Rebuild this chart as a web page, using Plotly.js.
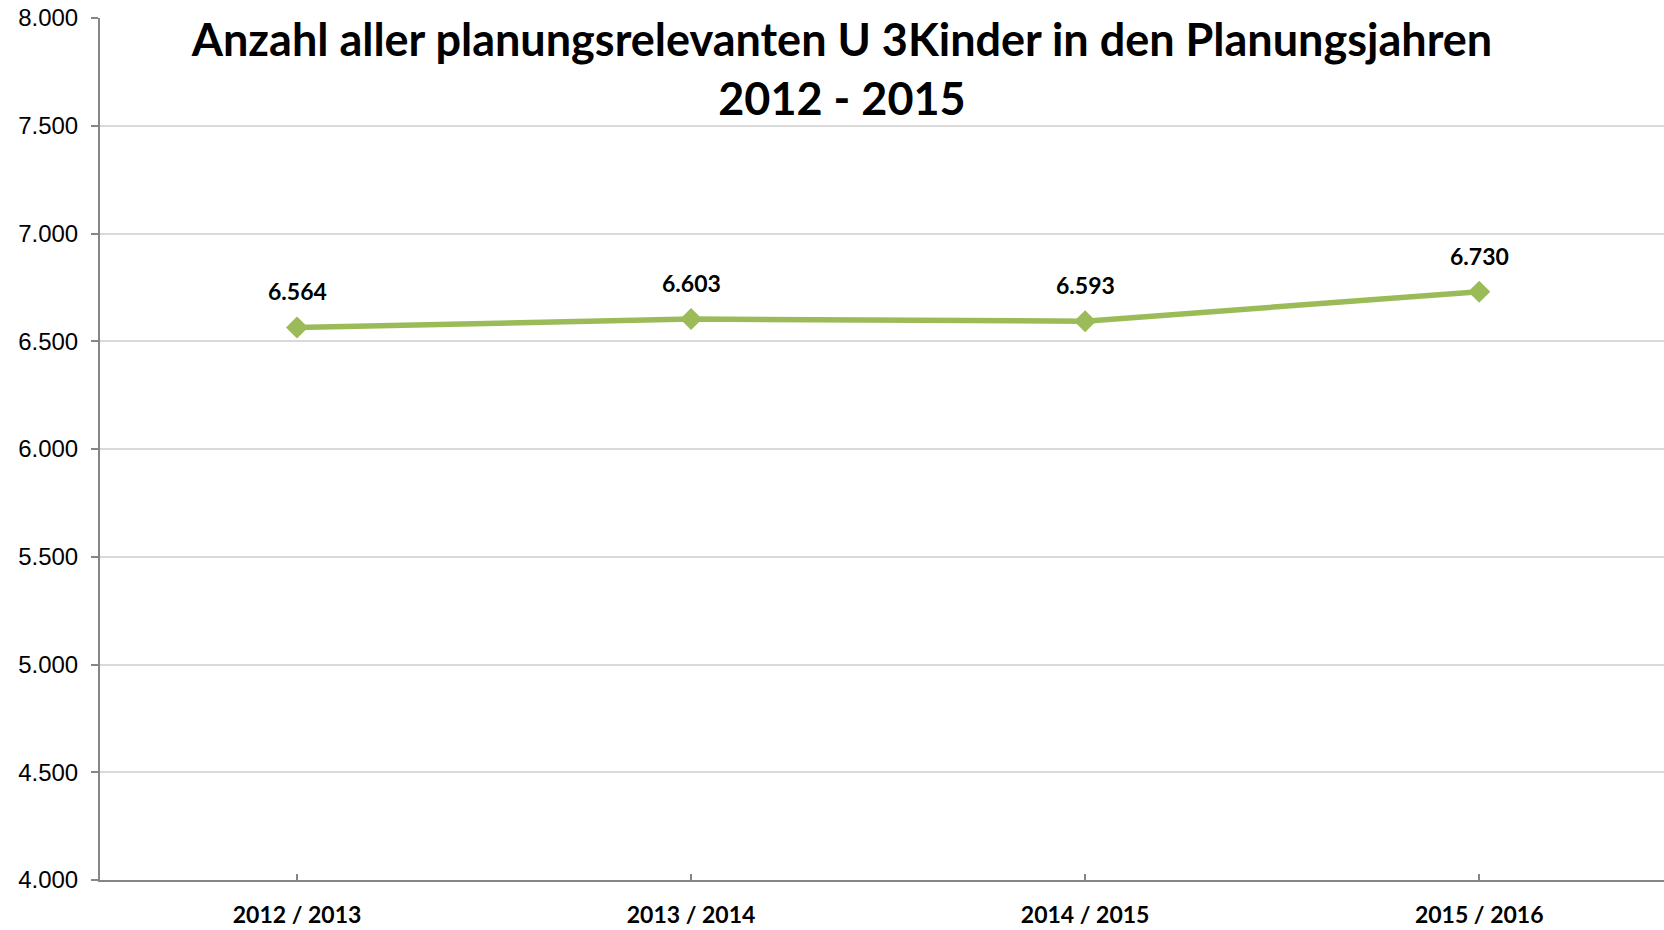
<!DOCTYPE html>
<html>
<head>
<meta charset="utf-8">
<script src="https://cdn.plot.ly/plotly-3.0.1.min.js"></script>
<style>html,body{margin:0;padding:0;background:#fff;}#chart{width:1664px;height:930px;}</style>
</head>
<body>
<div id="chart"></div>
<script>
const categories = ["2012 / 2013", "2013 / 2014", "2014 / 2015", "2015 / 2016"];
const values = [6564, 6603, 6593, 6730];
const valueLabels = ["6.564", "6.603", "6.593", "6.730"];
const yTicks = [4000, 4500, 5000, 5500, 6000, 6500, 7000, 7500, 8000];
const titleText = "Anzahl aller planungsrelevanten U 3Kinder in den Planungsjahren<br>2012 - 2015";

const green = "#9BBB59";

const trace = {
  x: categories,
  y: values,
  type: "scatter",
  mode: "lines+markers",
  line: {color: green, width: 5.5},
  marker: {symbol: "diamond", size: 17, color: green},
  hoverinfo: "x+y",
  cliponaxis: false
};

const annotations = categories.map((c, i) => ({
  x: c, y: values[i], xref: "x", yref: "y",
  text: valueLabels[i], showarrow: false,
  yanchor: "middle", xanchor: "center", yshift: 36,
  font: {family: "Lato, 'Open Sans', sans-serif", size: 23, color: "#000", weight: "bold"}
}));

const layout = {
  width: 1664, height: 930,
  paper_bgcolor: "#fff", plot_bgcolor: "#fff",
  separators: ",.",
  margin: {l: 100, r: 0, t: 18, b: 50, pad: 0},
  showlegend: false,
  title: {
    text: titleText,
    x: 842/1664, xanchor: "center", xref: "container",
    y: 1 - 56/930, yanchor: "top", yref: "container",
    font: {family: "Lato, 'Open Sans', sans-serif", size: 45, color: "#000", weight: "bold"}
  },
  xaxis: {
    type: "category",
    range: [-0.5, 3.469],
    showline: true, linecolor: "#868686", linewidth: 2,
    ticks: "inside", ticklen: 6, tickcolor: "#868686", tickwidth: 1.5,
    showgrid: false, zeroline: false,
    tickfont: {family: "Lato, 'Open Sans', sans-serif", size: 23, color: "#000", weight: "bold"},
    ticklabelstandoff: 13,
    fixedrange: true
  },
  yaxis: {
    range: [4000, 8000],
    tickvals: yTicks,
    tickformat: ",.0f",
    showline: true, linecolor: "#868686", linewidth: 2,
    ticks: "outside", ticklen: 7, tickcolor: "#868686", tickwidth: 1.5,
    showgrid: true, gridcolor: "#D9D9D9", gridwidth: 1.5,
    zeroline: false,
    tickfont: {family: "'Liberation Sans', Arial, sans-serif", size: 24, color: "#000"},
    ticklabelstandoff: 8,
    fixedrange: true
  },
  annotations: annotations
};

Plotly.newPlot("chart", [trace], layout, {displayModeBar: false, staticPlot: false});
</script>
</body>
</html>
